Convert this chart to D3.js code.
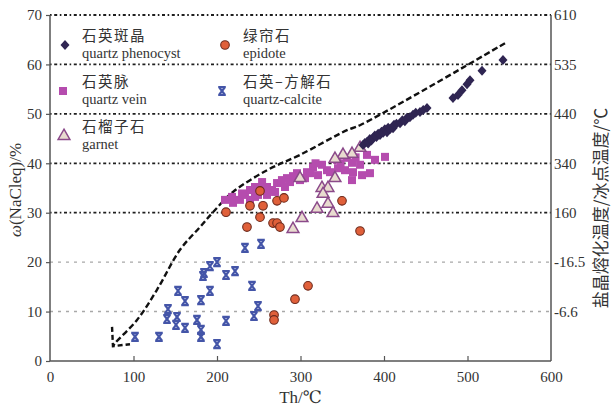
<!DOCTYPE html>
<html>
<head>
<meta charset="utf-8">
<script src="https://cdn.jsdelivr.net/npm/d3@7"></script>
<style>
  body { margin: 0; background: #fff; }
  svg text { font-family: "Liberation Serif", "Times New Roman", "DejaVu Serif", serif; }
  svg text.zh { font-family: "Noto Sans CJK SC", sans-serif; }
</style>
</head>
<body>
<svg id="chart" width="614" height="408"></svg>
<script>
// Th (°C), w(NaCleq) (%)
const quartzPhenocyst = [
  [374.9,43.7],[377,44.1],[379.6,44.3],[381,44.0],[383,44.9],[385,44.6],[386.8,45.1],[389,45.6],
  [391,45.3],[393,46.0],[395.2,45.7],[397,46.4],[399,46.2],[401,46.9],[403.6,46.3],[405,47.2],
  [407,46.9],[410.8,47.1],[412,47.8],[415,48.0],[419.2,48.1],[422,48.7],[425,48.5],[427.5,49.2],
  [431,49.3],[434.7,49.8],[438,50.2],[443.1,50.4],[447,50.8],[451.5,51.2],
  [482.6,53.2],[488.6,53.8],[493.4,54.8],[499.4,56.0],[503,56.8],[517.4,58.7],[542.5,60.9]
];
const quartzVein = [
  [209.6,32.6],[218,33.2],[219.2,32.0],[227.5,32.6],[233.5,33.6],[239.5,34.6],[239.5,32.6],
  [245.5,35.2],[245.5,33.2],[249.1,33.6],[254,36.2],[259.9,35.2],[259.9,33.6],[265.9,34.6],
  [269.5,34.2],[271.9,36.0],[277.8,36.6],[281.4,35.2],[283.8,37.0],[287.4,36.2],[295.8,38.0],
  [299.4,36.6],[305.4,37.0],[307.8,38.2],[315,39.2],[321,37.6],[325.7,39.7],[331.7,38.6],
  [335.3,38.2],[343.7,40.7],[344.9,39.0],[353.3,38.6],[355.7,41.1],[361.7,40.1],[362.9,38.2],
  [361.7,36.6],[371.3,39.7],[373.7,37.6],[379.6,41.7],[383.2,38.0],[389.2,40.7],[401.2,41.3],
  [291,37.4],[312,38.0],[318,40.0],[348,40.0],[366,41.2],[252,34.8],[230,33.9]
];
const garnet = [
  [371.3,43.3],[361.7,42.1],[350.9,41.9],[341.3,41.1],[341.3,37.2],[299.4,37.2],[325.7,35.2],
  [332.9,35.2],[327,34.0],[332.9,32.0],[319.8,31.0],[338.9,30.1],[301.8,29.1],[291,26.9]
];
const epidote = [
  [251.5,34.4],[239.5,31.4],[255.1,31.4],[271.9,32.4],[280.2,33.0],[210.8,30.1],[251.5,29.1],
  [349.7,32.4],[235.9,27.1],[267.1,27.9],[271.9,27.9],[275.4,27.1],[371.3,26.3],[309,15.2],
  [293.4,12.5],[268.3,9.3],[268.3,8.3]
];
const quartzCalcite = [
  [233.5,22.9],[252.7,23.7],[200,20.0],[191.6,19.2],[184.4,17.8],[183.2,17.2],[210.8,17.4],
  [221.6,18.2],[153.3,14.2],[191.6,14.2],[241.9,15.2],[161.7,12.1],[180.8,12.3],[249.1,11.1],
  [244.3,9.1],[141.3,10.5],[140.1,8.5],[152.1,8.9],[150.9,7.3],[161.7,6.7],[176,8.3],
  [180.8,6.3],[180.8,4.9],[210.8,8.1],[200,3.4],[101.8,4.9],[130.5,4.9]
];
// trend arrow
const trendLine = [
  [544.9,64.3],[371.3,47.7],[355.7,46.7],[299.4,41.7],[259.9,38.6],[219.2,34.2],[195.2,30.1],
  [179.6,27.1],[155.7,22.5],[128.1,14.4],[104.2,8.3],[77.8,3.6],[75.4,3.0]
];
const arrowHead = [[74.3,6.9],[75.4,3.0],[95.8,3.4]];

const xTicks = [0,100,200,300,400,500,600];
const yTicks = [0,10,20,30,40,50,60,70];
const rightTicks = [10,20,30,40,50,60,70];
const rightLabels = ["-6.6","-16.5","160","340","440","535","610"];

const svg = d3.select("#chart");
const pLeft = 50, pRight = 551, pTop = 15, pBottom = 361;

let x = d3.scaleLinear().domain([0,600]).range([pLeft,pRight]);
let y = d3.scaleLinear().domain([0,70]).range([pBottom,pTop]);

// gridlines
svg.append("g").selectAll("line")
  .data([10,20,30,40,50,60,70])
  .join("line")
  .attr("x1", pLeft).attr("x2", pRight)
  .attr("y1", d => y(d)).attr("y2", d => y(d))
  .attr("stroke", d => d <= 20 ? "#a8a8a8" : "#1e1e1e")
  .attr("stroke-width", d => d <= 20 ? 1.4 : 1.8)
  .attr("stroke-dasharray", d => d <= 20 ? "3,5" : "1.6,2.6,3,2.6");

// arrow
let line = d3.line().x(d => x(d[0])).y(d => y(d[1])).curve(d3.curveCatmullRom);
svg.append("path").datum(trendLine).attr("d", line)
  .attr("fill","none").attr("stroke","#111").attr("stroke-width",2.4).attr("stroke-dasharray","6,3");
svg.append("path").datum(arrowHead).attr("d", d3.line().x(d => x(d[0])).y(d => y(d[1])))
  .attr("fill","none").attr("stroke","#111").attr("stroke-width",2.4).attr("stroke-dasharray","5,3");

// markers
const sym = {
  square: d3.symbol().type(d3.symbolSquare).size(64),
  triangle: d3.symbol().type(d3.symbolTriangle).size(60),
  diamond: "M0,-5L4.5,0L0,5L-4.5,0Z",
  cross: "M-3.8,-4L3.8,-4M-3.8,4L3.8,4M-3,-4L3,4M3,-4L-3,4"
};

function drawSquare(g){ g.attr("d", sym.square()).attr("fill","#b54cae"); }
function drawTriangle(g){ g.attr("d", sym.triangle()).attr("fill","#e8dbcf").attr("stroke","#8b4a8a").attr("stroke-width",1.5); }
function drawDiamond(g){ g.attr("d", sym.diamond).attr("fill","#2f2552"); }
function drawCross(g){ g.attr("d", sym.cross).attr("fill","none").attr("stroke","#4455a8").attr("stroke-width",2.2); }

svg.append("g").selectAll("path").data(quartzVein).join("path")
  .attr("transform", d => `translate(${x(d[0])},${y(d[1])})`).call(drawSquare);
svg.append("g").selectAll("circle").data(epidote).join("circle")
  .attr("cx", d => x(d[0])).attr("cy", d => y(d[1])).attr("r", 4.3)
  .attr("fill","#e0603a").attr("stroke","#6e2a1c").attr("stroke-width",1.1);
svg.append("g").selectAll("path").data(quartzCalcite).join("path")
  .attr("transform", d => `translate(${x(d[0])},${y(d[1])})`).call(drawCross);
svg.append("g").selectAll("path").data(garnet).join("path")
  .attr("transform", d => `translate(${x(d[0])},${y(d[1])+1})`).call(drawTriangle);
svg.append("g").selectAll("path").data(quartzPhenocyst).join("path")
  .attr("transform", d => `translate(${x(d[0])},${y(d[1])})`).call(drawDiamond);

// axes frame
svg.append("line").attr("x1",pLeft).attr("x2",pLeft).attr("y1",pTop).attr("y2",pBottom).attr("stroke","#555").attr("stroke-width",1.5);
svg.append("line").attr("x1",pRight).attr("x2",pRight).attr("y1",pTop).attr("y2",pBottom).attr("stroke","#555").attr("stroke-width",1.5);
svg.append("line").attr("x1",pLeft).attr("x2",pRight).attr("y1",pBottom).attr("y2",pBottom).attr("stroke","#555").attr("stroke-width",1.5);

let xAxis = svg.append("g").attr("transform",`translate(0,${pBottom})`)
  .call(d3.axisBottom(x).tickValues(xTicks).tickSize(-5).tickPadding(10));
let yAxis = svg.append("g").attr("transform",`translate(${pLeft},0)`)
  .call(d3.axisLeft(y).tickValues(yTicks).tickSize(4).tickPadding(4));
let rAxis = svg.append("g").attr("transform",`translate(${pRight},0)`)
  .call(d3.axisRight(y).tickValues(rightTicks).tickSize(0).tickPadding(3)
    .tickFormat((d,i) => rightLabels[i]));

[xAxis,yAxis,rAxis].forEach(a => {
  a.attr("font-family", null).attr("font-size", null);
  a.select(".domain").remove();
  a.selectAll("line").attr("stroke","#555").attr("stroke-width",1.2);
  a.selectAll("text").attr("font-size",15).attr("fill","#333");
});
xAxis.selectAll(".tick").filter(d => d == 0 || d == 600).select("line").remove();

// titles
svg.append("text").attr("x",(pLeft+pRight)/2).attr("y",403).attr("text-anchor","middle")
  .attr("font-size",17).attr("fill","#333").text("Th/℃");
svg.append("text").attr("transform","translate(21,190) rotate(-90)").attr("text-anchor","middle")
  .attr("font-size",17).attr("fill","#333")
  .html('<tspan font-style="italic">ω</tspan>(NaCleq)/%');
svg.append("text").attr("class","zh").attr("transform","translate(602,208) rotate(-90)").attr("text-anchor","middle")
  .attr("font-size",17).attr("fill","#333").attr("dominant-baseline","middle")
  .text("盐晶熔化温度/冰点温度/℃");

// legend
const legend = [
  {zh:"石英斑晶", en:"quartz phenocyst", mx:65, my:45, tx:82, draw:"diamond"},
  {zh:"绿帘石", en:"epidote", mx:225, my:45, tx:243, draw:"circle"},
  {zh:"石英脉", en:"quartz vein", mx:63, my:91, tx:82, draw:"square"},
  {zh:"石英–方解石", en:"quartz-calcite", mx:222, my:91, tx:243, draw:"cross"},
  {zh:"石榴子石", en:"garnet", mx:64, my:136, tx:82, draw:"triangle"}
];
let lg = svg.append("g").selectAll("g").data(legend).join("g");
lg.append("text").attr("class","zh").attr("x", d => d.tx).attr("y", d => d.my - 4)
  .attr("font-size",14.5).attr("fill","#333").attr("letter-spacing",1.5).text(d => d.zh);
lg.append("text").attr("x", d => d.tx).attr("y", d => d.my + 13)
  .attr("font-size",14.5).attr("fill","#333").text(d => d.en);
lg.each(function(d){
  let g = d3.select(this);
  if (d.draw == "circle") {
    g.append("circle").attr("cx",d.mx).attr("cy",d.my).attr("r",4.3)
      .attr("fill","#e0603a").attr("stroke","#6e2a1c").attr("stroke-width",1.1);
  } else {
    let p = g.append("path").attr("transform",`translate(${d.mx},${d.my})`);
    if (d.draw == "diamond") p.call(drawDiamond);
    if (d.draw == "square") p.call(drawSquare);
    if (d.draw == "cross") p.call(drawCross);
    if (d.draw == "triangle") p.call(drawTriangle);
  }
});
</script>
</body>
</html>
